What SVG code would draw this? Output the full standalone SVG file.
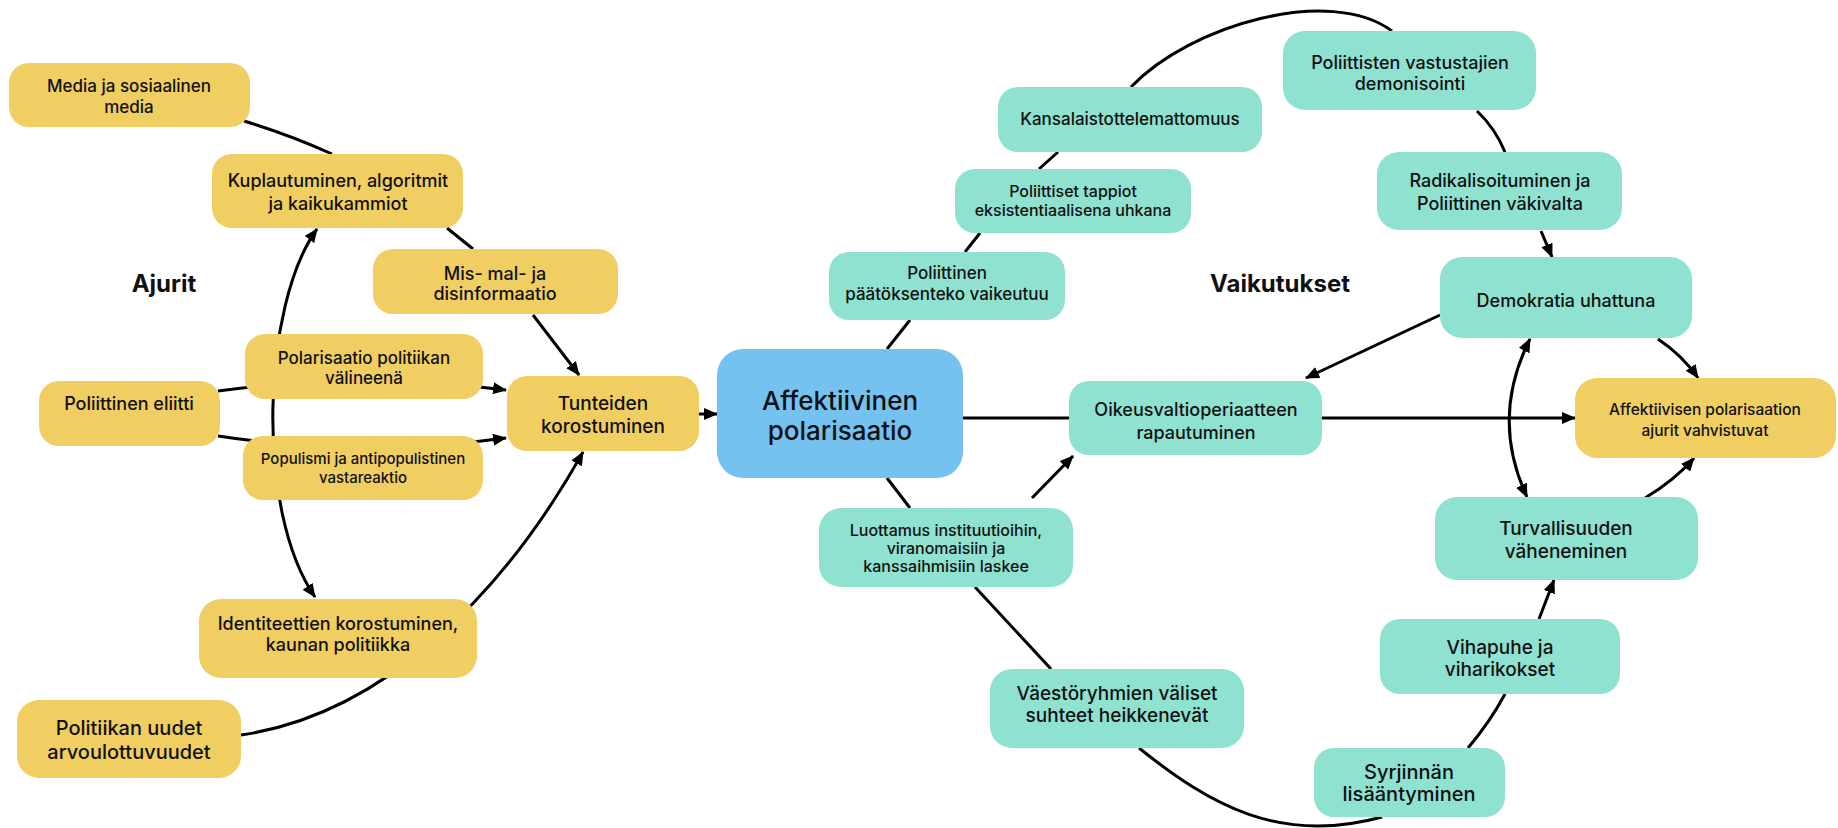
<svg xmlns="http://www.w3.org/2000/svg" width="1838" height="828" viewBox="0 0 1838 828">
<style>
.y{fill:#F0CE62}
.t{fill:#8FE1D0}
.b{fill:#75C1F0}
text{font-family:Inter,"Liberation Sans",sans-serif;font-weight:500;fill:#111;text-anchor:middle;dominant-baseline:central}
.e{fill:none;stroke:#000;stroke-width:3}
.a{marker-end:url(#ah)}
.aa{marker-start:url(#ah);marker-end:url(#ah)}
.h{font-weight:700;font-size:24px}
</style>
<defs>
<marker id="ah" viewBox="0 0 14 12" refX="13" refY="6" markerWidth="14" markerHeight="12" markerUnits="userSpaceOnUse" orient="auto-start-reverse">
<path d="M0,0 L14,6 L0,12 z" fill="#000"/>
</marker>
</defs>
<rect width="1838" height="828" fill="#fff"/>
<g id="connectors">
<path class="e" d="M244,121 Q290,135 332,154"/>
<path class="e" d="M447,228 L473,249"/>
<path class="e a" d="M533,315 L579,375"/>
<path class="e a" d="M218,391 Q362,371 506,390"/>
<path class="e a" d="M218,436 Q362,458 506,438"/>
<path class="e aa" d="M315,597 C255,510 262,305 317,229"/>
<path class="e a" d="M241,735 C380,715 500,600 583,452"/>
<path class="e a" d="M699,414 L717,414"/>
<path class="e" d="M887,349 L910,320"/>
<path class="e" d="M965,252 L980,233"/>
<path class="e" d="M1039,169 L1058,152"/>
<path class="e" d="M1131,87 C1190,25 1330,-15 1392,31"/>
<path class="e" d="M1477,111 Q1495,128 1505,152"/>
<path class="e a" d="M1541,231 L1552,257"/>
<path class="e a" d="M1440,315 L1306,378"/>
<path class="e a" d="M1658,339 Q1682,355 1698,378"/>
<path class="e a" d="M963,418 L1575,418"/>
<path class="e aa" d="M1530,339 Q1490,418 1527,497"/>
<path class="e a" d="M1645,498 Q1675,480 1694,458"/>
<path class="e" d="M887,478 L910,508"/>
<path class="e a" d="M1032,498 L1073,456"/>
<path class="e" d="M975,587 L1051,669"/>
<path class="e" d="M1139,748 C1210,805 1280,845 1382,817"/>
<path class="e" d="M1468,748 Q1490,722 1505,694"/>
<path class="e a" d="M1539,619 L1554,580"/>
</g>
<text class="h" x="164" y="283">Ajurit</text>
<text class="h" x="1280" y="283">Vaikutukset</text>
<g id="media"><rect class="y" x="9" y="63" width="241" height="64" rx="20"/><text font-size="17" x="129" y="86">Media ja sosiaalinen</text><text font-size="17" x="129" y="107">media</text></g>
<g id="kupla"><rect class="y" x="212" y="154" width="251" height="74" rx="20"/><text font-size="18" x="338" y="180">Kuplautuminen, algoritmit</text><text font-size="18" x="338" y="203">ja kaikukammiot</text></g>
<g id="mis"><rect class="y" x="373" y="249" width="245" height="65" rx="20"/><text font-size="18" x="495" y="273">Mis- mal- ja</text><text font-size="18" x="495" y="293">disinformaatio</text></g>
<g id="polarisaatio"><rect class="y" x="245" y="334" width="238" height="65" rx="20"/><text font-size="17" x="364" y="358">Polarisaatio politiikan</text><text font-size="17" x="364" y="378">välineenä</text></g>
<g id="eliitti"><rect class="y" x="39" y="381" width="181" height="65" rx="20"/><text font-size="18" x="129" y="403">Poliittinen eliitti</text></g>
<g id="populismi"><rect class="y" x="243" y="436" width="240" height="64" rx="20"/><text font-size="15" x="363" y="458">Populismi ja antipopulistinen</text><text font-size="15" x="363" y="477">vastareaktio</text></g>
<g id="tunteiden"><rect class="y" x="507" y="376" width="192" height="75" rx="20"/><text font-size="19" x="603" y="403">Tunteiden</text><text font-size="19" x="603" y="426">korostuminen</text></g>
<g id="identiteettien"><rect class="y" x="199" y="599" width="278" height="79" rx="22"/><text font-size="18" x="338" y="623">Identiteettien korostuminen,</text><text font-size="18" x="338" y="644">kaunan politiikka</text></g>
<g id="politiikan"><rect class="y" x="17" y="700" width="224" height="78" rx="22"/><text font-size="20" x="129" y="728">Politiikan uudet</text><text font-size="20" x="129" y="752">arvoulottuvuudet</text></g>
<g id="affektiivinen"><rect class="b" x="717" y="349" width="246" height="129" rx="26"/><text font-size="26" x="840" y="400">Affektiivinen</text><text font-size="26" x="840" y="430">polarisaatio</text></g>
<g id="paatoksenteko"><rect class="t" x="829" y="252" width="236" height="68" rx="20"/><text font-size="17" x="947" y="273">Poliittinen</text><text font-size="17" x="947" y="294">päätöksenteko vaikeutuu</text></g>
<g id="tappiot"><rect class="t" x="955" y="169" width="236" height="64" rx="20"/><text font-size="16" x="1073" y="191">Poliittiset tappiot</text><text font-size="16" x="1073" y="210">eksistentiaalisena uhkana</text></g>
<g id="kansalais"><rect class="t" x="998" y="87" width="264" height="65" rx="20"/><text font-size="17" x="1130" y="119">Kansalaistottelemattomuus</text></g>
<g id="vastustajien"><rect class="t" x="1283" y="31" width="253" height="79" rx="22"/><text font-size="18" x="1410" y="62">Poliittisten vastustajien</text><text font-size="18" x="1410" y="83">demonisointi</text></g>
<g id="radikalisoituminen"><rect class="t" x="1377" y="152" width="245" height="78" rx="22"/><text font-size="18" x="1500" y="180">Radikalisoituminen ja</text><text font-size="18" x="1500" y="203">Poliittinen väkivalta</text></g>
<g id="demokratia"><rect class="t" x="1440" y="257" width="252" height="81" rx="22"/><text font-size="18" x="1566" y="300">Demokratia uhattuna</text></g>
<g id="oikeusvaltio"><rect class="t" x="1069" y="381" width="253" height="74" rx="20"/><text font-size="18" x="1196" y="409">Oikeusvaltioperiaatteen</text><text font-size="18" x="1196" y="432">rapautuminen</text></g>
<g id="ajurit_vahvistuvat"><rect class="y" x="1575" y="378" width="261" height="80" rx="22"/><text font-size="15.5" x="1705" y="409">Affektiivisen polarisaation</text><text font-size="15.5" x="1705" y="430">ajurit vahvistuvat</text></g>
<g id="turvallisuuden"><rect class="t" x="1435" y="497" width="263" height="83" rx="22"/><text font-size="19" x="1566" y="528">Turvallisuuden</text><text font-size="19" x="1566" y="551">väheneminen</text></g>
<g id="vihapuhe"><rect class="t" x="1380" y="619" width="240" height="75" rx="20"/><text font-size="19" x="1500" y="647">Vihapuhe ja</text><text font-size="19" x="1500" y="669">viharikokset</text></g>
<g id="syrjinnan"><rect class="t" x="1314" y="748" width="191" height="69" rx="20"/><text font-size="20" x="1409" y="772">Syrjinnän</text><text font-size="20" x="1409" y="794">lisääntyminen</text></g>
<g id="luottamus"><rect class="t" x="819" y="508" width="254" height="79" rx="22"/><text font-size="16" x="946" y="530">Luottamus instituutioihin,</text><text font-size="16" x="946" y="548">viranomaisiin ja</text><text font-size="16" x="946" y="566">kanssaihmisiin laskee</text></g>
<g id="vaestoryhmien"><rect class="t" x="990" y="669" width="254" height="79" rx="22"/><text font-size="19" x="1117" y="693">Väestöryhmien väliset</text><text font-size="19" x="1117" y="715">suhteet heikkenevät</text></g>
</svg>
